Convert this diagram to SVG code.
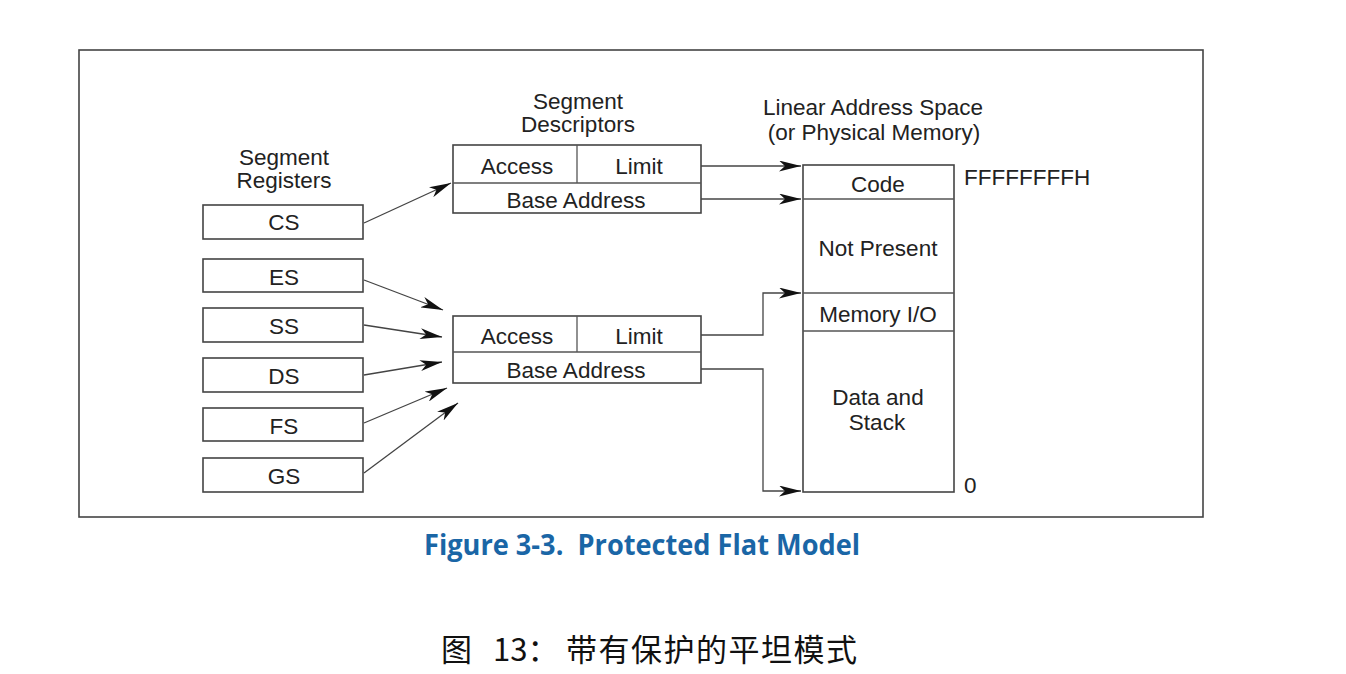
<svg xmlns="http://www.w3.org/2000/svg" width="1346" height="674" viewBox="0 0 1346 674">
<defs>
<marker id="ah" viewBox="0 0 22 11" refX="22" refY="5.5" markerWidth="22" markerHeight="11" markerUnits="userSpaceOnUse" orient="auto">
<path d="M0,0 L22,5.5 L0,11 L6,5.5 Z" fill="#111"/>
</marker>
<style>
.box{fill:#fff;stroke:#444;stroke-width:1.6}
.ln{fill:none;stroke:#555;stroke-width:1.3}
.t{font-family:"Liberation Sans",Arial,sans-serif;font-size:22.5px;fill:#222;text-anchor:middle}
.tl{font-family:"Liberation Sans",Arial,sans-serif;font-size:22.5px;fill:#222}
.c{fill:none;stroke:#444;stroke-width:1.3;marker-end:url(#ah)}
</style>
</defs>
<rect width="1346" height="674" fill="#fff"/>
<rect x="79" y="50" width="1124" height="467" fill="none" stroke="#444" stroke-width="1.6"/>

<g id="labels">
<text class="t" x="284" y="165">Segment</text>
<text class="t" x="284" y="188">Registers</text>
<text class="t" x="578" y="109">Segment</text>
<text class="t" x="578" y="132">Descriptors</text>
<text class="t" x="873" y="115">Linear Address Space</text>
<text class="t" x="874" y="140">(or Physical Memory)</text>
</g>

<g id="reg-cs"><rect class="box" x="203" y="205" width="160" height="34"/><text class="t" x="284" y="230">CS</text></g>
<g id="reg-es"><rect class="box" x="203" y="259" width="160" height="33"/><text class="t" x="284" y="285">ES</text></g>
<g id="reg-ss"><rect class="box" x="203" y="308" width="160" height="34"/><text class="t" x="284" y="334">SS</text></g>
<g id="reg-ds"><rect class="box" x="203" y="358" width="160" height="34"/><text class="t" x="284" y="384">DS</text></g>
<g id="reg-fs"><rect class="box" x="203" y="408" width="160" height="33"/><text class="t" x="284" y="434">FS</text></g>
<g id="reg-gs"><rect class="box" x="203" y="458" width="160" height="34"/><text class="t" x="284" y="484">GS</text></g>

<g id="desc1">
<rect class="box" x="453" y="145" width="248" height="68"/>
<line class="ln" x1="453" y1="183" x2="701" y2="183"/>
<line class="ln" x1="577" y1="145" x2="577" y2="183"/>
<text class="t" x="517" y="174">Access</text>
<text class="t" x="639" y="174">Limit</text>
<text class="t" x="576" y="208">Base Address</text>
</g>

<g id="desc2">
<rect class="box" x="453" y="316" width="248" height="67"/>
<line class="ln" x1="453" y1="352" x2="701" y2="352"/>
<line class="ln" x1="577" y1="316" x2="577" y2="352"/>
<text class="t" x="517" y="344">Access</text>
<text class="t" x="639" y="344">Limit</text>
<text class="t" x="576" y="378">Base Address</text>
</g>

<g id="memory">
<rect class="box" x="803" y="165" width="151" height="327"/>
<line class="ln" x1="803" y1="199" x2="954" y2="199"/>
<line class="ln" x1="803" y1="293" x2="954" y2="293"/>
<line class="ln" x1="803" y1="331" x2="954" y2="331"/>
<text class="t" x="878" y="192">Code</text>
<text class="t" x="878" y="256">Not Present</text>
<text class="t" x="878" y="322">Memory I/O</text>
<text class="t" x="878" y="405">Data and</text>
<text class="t" x="877" y="430">Stack</text>
<text class="tl" x="964" y="185">FFFFFFFFH</text>
<text class="tl" x="964" y="493">0</text>
</g>

<g id="connectors">
<line class="c" x1="364" y1="223" x2="451" y2="183"/>
<line class="c" x1="701" y1="166" x2="801" y2="166"/>
<line class="c" x1="701" y1="199" x2="801" y2="199"/>
<line class="c" x1="364" y1="280" x2="443" y2="310"/>
<line class="c" x1="364" y1="325" x2="442" y2="337"/>
<line class="c" x1="364" y1="375" x2="442" y2="362"/>
<line class="c" x1="364" y1="423" x2="447" y2="388"/>
<line class="c" x1="364" y1="473" x2="458" y2="403"/>
<polyline class="c" points="701,335 763,335 763,293 801,293"/>
<polyline class="c" points="701,369 763,369 763,491 801,491"/>
</g>

<g id="captions">
<text x="424" y="555" textLength="436" lengthAdjust="spacingAndGlyphs" style="font-family:'Open Sans','Noto Sans',sans-serif;font-weight:700;font-size:28px;fill:#1a66a6" xml:space="preserve">Figure 3-3.  Protected Flat Model</text>
<text y="661" style="font-family:'Noto Sans CJK SC','Noto Sans',sans-serif;font-size:31px;fill:#111"><tspan x="441">图</tspan><tspan x="493">13：</tspan><tspan x="566" textLength="291" lengthAdjust="spacing">带有保护的平坦模式</tspan></text>
</g>
</svg>
